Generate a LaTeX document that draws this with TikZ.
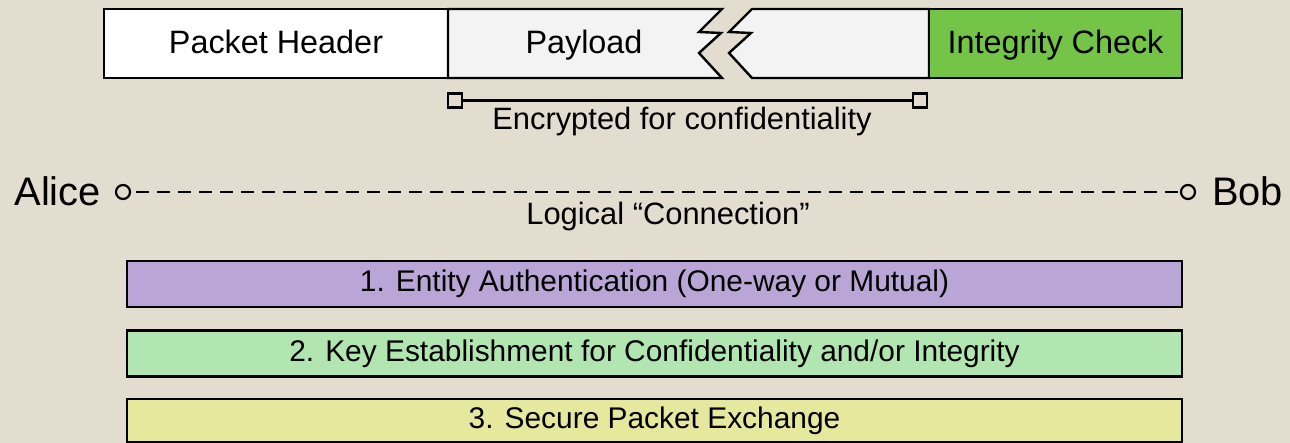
\documentclass[tikz,border=0pt]{standalone}
\usepackage{fontspec}
\setmainfont{Liberation Sans}
\definecolor{paper}{HTML}{E3DDD0}
\definecolor{payfill}{HTML}{F3F3F3}
\definecolor{checkgreen}{HTML}{74C447}
\definecolor{authpurple}{HTML}{B9A6D7}
\definecolor{keygreen}{HTML}{B1E6B0}
\definecolor{xchgyellow}{HTML}{E6E89D}
\begin{document}
\begin{tikzpicture}[x=1bp,y=-1bp,
  outline/.style={draw=black,line width=2.4bp,line join=miter},
  bar/.style={outline,minimum width=1055bp,minimum height=46bp,inner sep=0pt,
              text height=22bp,text depth=6bp,
              font=\fontsize{30}{36}\selectfont},
  toplabel/.style={font=\fontsize{32.5}{38}\selectfont,inner sep=0pt,anchor=base},
  midlabel/.style={font=\fontsize{31}{37}\selectfont,inner sep=0pt,anchor=base},
  endlabel/.style={font=\fontsize{40}{48}\selectfont,inner sep=0pt},
  endpoint/.style={circle,draw=black,line width=2.2bp,minimum size=14bp,inner sep=0pt},
  tick/.style={rectangle,draw=black,line width=2.2bp,minimum size=14bp,inner sep=0pt}]
  % background
  \fill[paper] (0,0) rectangle (1290,443);
  \useasboundingbox (0,0) rectangle (1290,443);

  % packet: header, payload (broken), integrity check
  \draw[outline,fill=white] (104,9) rectangle (448,78);
  \draw[outline,fill=payfill] (448,9) -- (722,9) -- (699,32) -- (721,33) -- (699,53)
       -- (722,78) -- (448,78) -- cycle;
  \draw[outline,fill=payfill] (752,9) -- (929,9) -- (929,78) -- (752,78) -- (729,53)
       -- (751,33) -- (729,32) -- cycle;
  \draw[outline,fill=checkgreen] (929,9) rectangle (1182,78);
  \node[toplabel] (hdr) at (276,54) {Packet Header};
  \node[toplabel] (pay) at (584,54) {Payload};
  \node[toplabel] (chk) at (1055.5,54) {Integrity Check};

  % encrypted span
  \node[tick] (encL) at (455,100.5) {};
  \node[tick] (encR) at (920,100.5) {};
  \draw[line width=2.2bp] (encL) -- (encR);
  \node[midlabel] (enc) at (682,130) {Encrypted for confidentiality};

  % logical connection
  \node[endlabel,anchor=base east] (alice) at (101,206) {Alice};
  \node[endlabel,anchor=base west] (bob) at (1212,206) {Bob};
  \node[endpoint] (ea) at (123,192) {};
  \node[endpoint] (eb) at (1188,192) {};
  \draw[line width=2.2bp,dash pattern=on 13bp off 8bp,dash phase=-5bp] (ea) -- (eb);
  \node[midlabel] (conn) at (668,225) {Logical “Connection”};

  % protocol phases
  \node[bar,fill=authpurple] (auth) at (654.5,284)
       {1. Entity Authentication (One-way or Mutual)};
  \node[bar,fill=keygreen] (keys) at (654.5,353.5)
       {2. Key Establishment for Confidentiality and/or Integrity};
  \node[bar,fill=xchgyellow,minimum height=43bp] (xchg) at (654.5,420.5)
       {3. Secure Packet Exchange};
\end{tikzpicture}
\end{document}
